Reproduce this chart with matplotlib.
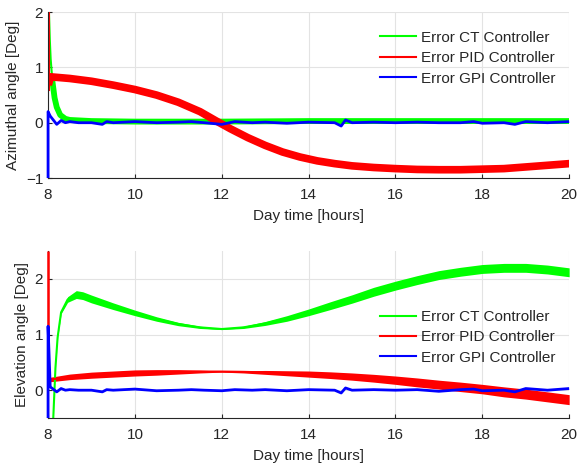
import numpy as np
import matplotlib.pyplot as plt

plt.rcParams['font.family'] = ['Liberation Sans', 'DejaVu Sans']
plt.rcParams['font.size'] = 10

# azimuthal errors [deg] vs day time [h]
az_ct_t = [8.0, 8.02, 8.04, 8.06, 8.1, 8.15, 8.2, 8.28, 8.4, 8.5, 9.0, 10.0, 12.0, 14.0, 16.0, 18.0, 20.0]
az_ct = [2.6, 2.0, 1.5, 1.15, 0.75, 0.45, 0.28, 0.14, 0.07, 0.05, 0.03, 0.02, 0.02, 0.03, 0.03, 0.03, 0.03]

az_pid_t = [8.03, 8.06, 8.5, 9.0, 9.5, 10.0, 10.5, 11.0, 11.5, 11.9, 12.2, 12.6, 13.0, 13.4, 13.8,
            14.2, 14.6, 15.0, 15.5, 16.0, 16.5, 17.0, 17.5, 18.0, 18.5, 19.0, 19.5, 20.0]
az_pid = [0.75, 0.83, 0.8, 0.75, 0.68, 0.6, 0.5, 0.37, 0.2, 0.02, -0.11, -0.27, -0.41, -0.53, -0.62,
          -0.69, -0.74, -0.78, -0.81, -0.83, -0.845, -0.85, -0.85, -0.84, -0.83, -0.8, -0.77, -0.74]
az_pid_spike = [2.6, 0.6]

gpi_t = [8.0, 8.0, 8.05, 8.2, 8.3, 8.4, 8.5, 8.7, 9.0, 9.25, 9.35, 9.5, 10.0, 10.5, 11.0, 11.3,
         11.6, 12.0, 12.3, 12.7, 13.0, 13.5, 14.0, 14.6, 14.75, 14.85, 15.0, 15.5, 16.0, 16.5,
         17.0, 17.5, 17.8, 18.0, 18.5, 18.75, 19.0, 19.5, 20.0]
az_gpi = [-1.0, 0.2, 0.12, -0.03, 0.04, 0.0, 0.02, 0.0, 0.0, -0.03, 0.02, 0.0, 0.02, 0.0, 0.01, 0.02,
          0.0, -0.03, 0.02, 0.0, 0.01, -0.01, 0.01, 0.0, -0.06, 0.05, 0.0, 0.01, 0.0, 0.01,
          0.0, 0.0, 0.02, -0.01, 0.0, -0.03, 0.02, 0.0, 0.02]

# elevation errors: band centre and half width
el_ct_t = [8.12, 8.17, 8.22, 8.3, 8.45, 8.65, 8.8, 9.0, 9.5, 10.0, 10.5, 11.0, 11.5, 12.0, 12.5, 13.0,
           13.5, 14.0, 14.5, 15.0, 15.5, 16.0, 16.5, 17.0, 17.5, 18.0, 18.5, 19.0, 19.5, 20.0]
el_ct = [-0.5, 0.4, 0.95, 1.4, 1.63, 1.72, 1.7, 1.64, 1.51, 1.39, 1.28, 1.19, 1.13, 1.1, 1.13, 1.2,
         1.29, 1.4, 1.52, 1.64, 1.77, 1.88, 1.98, 2.07, 2.13, 2.18, 2.2, 2.2, 2.17, 2.12]
el_ct_w = [0.005, 0.008, 0.012, 0.025, 0.05, 0.07, 0.07, 0.07, 0.06, 0.05, 0.04, 0.03, 0.02, 0.01, 0.02, 0.035,
           0.05, 0.06, 0.07, 0.075, 0.08, 0.08, 0.08, 0.08, 0.08, 0.08, 0.08, 0.08, 0.08, 0.08]

el_pid_t = [8.03, 8.5, 9.0, 9.5, 10.0, 10.5, 11.0, 11.5, 12.0, 12.5, 13.0, 13.5, 14.0, 14.5, 15.0,
            15.5, 16.0, 16.5, 17.0, 17.5, 18.0, 18.5, 19.0, 19.5, 20.0]
el_pid = [0.19, 0.24, 0.27, 0.29, 0.31, 0.32, 0.33, 0.335, 0.335, 0.33, 0.32, 0.305, 0.29, 0.27, 0.245,
          0.215, 0.18, 0.14, 0.1, 0.06, 0.02, -0.03, -0.07, -0.12, -0.17]
el_pid_w = [0.04, 0.05, 0.055, 0.055, 0.055, 0.05, 0.04, 0.025, 0.01, 0.02, 0.035, 0.045, 0.055, 0.06, 0.065,
            0.07, 0.075, 0.08, 0.08, 0.085, 0.085, 0.09, 0.09, 0.09, 0.09]
el_pid_spike = [2.5, 0.2]

el_gpi_t = [8.0, 8.0, 8.05, 8.2, 8.3, 8.4, 8.5, 8.7, 9.0, 9.25, 9.35, 9.5, 10.0, 10.5, 11.0, 11.3,
            11.6, 12.0, 12.3, 12.7, 13.0, 13.5, 14.0, 14.6, 14.75, 14.85, 15.0, 15.5, 16.0, 16.5,
            17.0, 17.5, 17.8, 18.0, 18.5, 18.75, 19.0, 19.5, 20.0]
el_gpi = [-0.5, 1.15, 0.06, -0.03, 0.03, 0.0, 0.01, 0.0, 0.0, -0.03, 0.01, 0.0, 0.02, -0.01, 0.0, 0.01,
          0.0, -0.01, 0.01, 0.0, 0.01, -0.01, 0.01, 0.0, -0.05, 0.04, 0.0, 0.01, 0.0, 0.01,
          -0.02, 0.01, 0.02, -0.01, 0.0, -0.03, 0.03, 0.0, 0.03]

green = '#00ff00'
red = '#ff0000'
blue = '#0000ff'
txt = '#262626'

fig = plt.figure(figsize=(5.79, 4.66), dpi=100)
ax1 = fig.add_axes([0.083, 0.618, 0.900, 0.356])
ax2 = fig.add_axes([0.083, 0.103, 0.900, 0.358])

for ax in (ax1, ax2):
    ax.spines['top'].set_visible(False)
    ax.spines['right'].set_visible(False)
    ax.spines['left'].set_color(txt)
    ax.spines['bottom'].set_color(txt)
    ax.grid(True, color='#e3e3e3', linewidth=0.8)
    ax.set_axisbelow(True)
    ax.tick_params(direction='in', length=3, colors=txt, labelsize=11)
    ax.tick_params(axis='x', pad=7)
    ax.set_xlim(8, 20)
    ax.set_xticks([8, 10, 12, 14, 16, 18, 20])
    ax.set_xlabel('Day time [hours]', color=txt, fontsize=11, labelpad=5)

ax1.plot(az_ct_t[:5], az_ct[:5], color=green, lw=1.5)
ax1.plot(az_ct_t[4:], az_ct[4:], color=green, lw=4.2)
ax1.plot([az_pid_t[0], az_pid_t[0]], az_pid_spike, color=red, lw=1.5)
ax1.plot(az_pid_t, az_pid, color=red, lw=5.5)
ax1.plot(gpi_t, az_gpi, color=blue, lw=2, clip_on=False, solid_capstyle='butt', zorder=3)
ax1.set_ylim(-1, 2)
ax1.set_yticks([-1, 0, 1, 2])
ax1.set_ylabel('Azimuthal angle [Deg]', color=txt, fontsize=11)

ct = np.array(el_ct)
ctw = np.array(el_ct_w)
ax2.fill_between(el_ct_t, ct - ctw, ct + ctw, color=green, lw=0)
ax2.plot(el_ct_t, el_ct, color=green, lw=1.5)
ax2.plot([8.0, 8.0], el_pid_spike, color=red, lw=1.8, clip_on=False, solid_capstyle='butt', zorder=3)
pid = np.array(el_pid)
pidw = np.array(el_pid_w)
ax2.fill_between(el_pid_t, pid - pidw, pid + pidw, color=red, lw=0)
ax2.plot(el_pid_t, el_pid, color=red, lw=1.5)
ax2.plot(el_gpi_t, el_gpi, color=blue, lw=2, clip_on=False, solid_capstyle='butt', zorder=3)
ax2.set_ylim(-0.5, 2.5)
ax2.set_yticks([0, 1, 2])
ax2.set_ylabel('Elevation angle [Deg]', color=txt, fontsize=11)

names = ['Error CT Controller', 'Error PID Controller', 'Error GPI Controller']
hs = [plt.Line2D([], [], color=c, lw=1.5) for c in (green, red, blue)]
for ax, anchor in ((ax1, (1.0, 0.97)), (ax2, (1.0, 0.73))):
    leg = ax.legend(hs, names, loc='upper right', bbox_to_anchor=anchor, frameon=False,
                    fontsize=11, handlelength=2.4, labelspacing=0.42, handletextpad=0.3)
    for t in leg.get_texts():
        t.set_color(txt)

fig.savefig('out.png', dpi=100)
